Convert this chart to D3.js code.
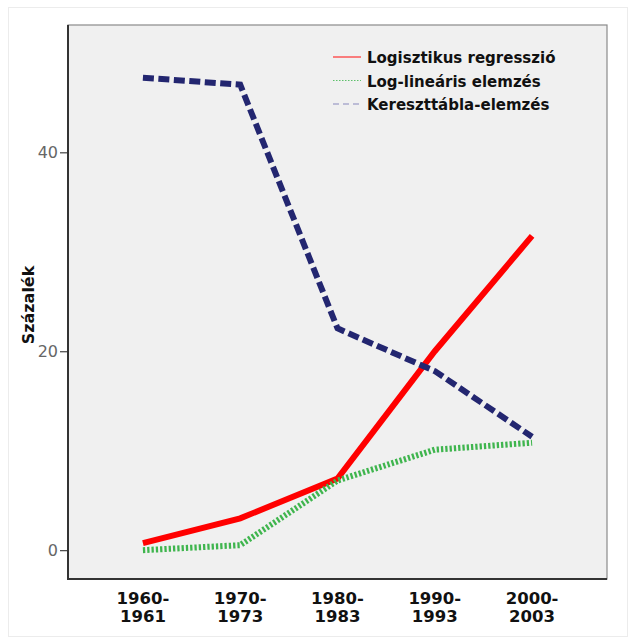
<!DOCTYPE html>
<html>
<head>
<meta charset="utf-8">
<script src="https://cdn.jsdelivr.net/npm/d3@7"></script>
<style>
  html, body { margin: 0; padding: 0; background: #ffffff; }
  svg { display: block; }
</style>
</head>
<body>
<svg id="chart" width="629" height="637"></svg>
<script>
const categories = [["1960-", "1961"], ["1970-", "1973"], ["1980-", "1983"], ["1990-", "1993"], ["2000-", "2003"]];
const seriesNames = ["Logisztikus regresszió", "Log-lineáris elemzés", "Kereszttábla-elemzés"];
const logisztikus = [0.7, 3.2, 7.2, 20.0, 31.6];
const logLinearis = [0.0, 0.5, 7.0, 10.1, 10.8];
const kereszttabla = [47.5, 46.8, 22.3, 18.0, 11.4];
const yTicks = [0, 20, 40];
const yTitle = "Százalék";

const seriesValues = [logisztikus, logLinearis, kereszttabla];
const seriesStyle = [
  { color: "#ff0000", dash: null, legendColor: "#ff3030", legendDash: null },
  { color: "#3fb54e", dash: "2.3,2", legendColor: "#5cc06a", legendDash: "1.5,1.5" },
  { color: "#232670", dash: "11,4.5", legendColor: "#8888bb", legendDash: "6,4" }
];

const svg = d3.select("#chart");
const W = 629, H = 637;

// outer frame
svg.append("rect").attr("x", 8.5).attr("y", 7.5).attr("width", W - 10).attr("height", H - 8)
  .attr("fill", "#ffffff").attr("stroke", "#ececec").attr("stroke-width", 1);

const plot = { left: 68, top: 25, right: 607, bottom: 579 };

const x = d3.scalePoint()
  .domain(categories.map((d, i) => i))
  .range([plot.left, plot.right])
  .padding(0.77);

const y = d3.scaleLinear()
  .domain([-2.9, 52.8])
  .range([plot.bottom, plot.top]);

// plot background
svg.append("rect")
  .attr("x", plot.left).attr("y", plot.top)
  .attr("width", plot.right - plot.left).attr("height", plot.bottom - plot.top)
  .attr("fill", "#f0f0f0").attr("stroke", "#8a8a8a").attr("stroke-width", 1.2);

// lines
const line = d3.line().x((d, i) => x(i)).y(d => y(d));
seriesValues.forEach((vals, k) => {
  const p = svg.append("path")
    .attr("d", line(vals))
    .attr("fill", "none")
    .attr("stroke", seriesStyle[k].color)
    .attr("stroke-width", 6)
    .attr("stroke-linejoin", "miter");
  if (seriesStyle[k].dash) p.attr("stroke-dasharray", seriesStyle[k].dash);
});

// y axis
const yAxis = d3.axisLeft(y).tickValues(yTicks).tickSize(8).tickPadding(2).tickFormat(d3.format("d"));
const gy = svg.append("g").attr("transform", `translate(${plot.left},0)`).call(yAxis);
gy.select(".domain").remove();
gy.selectAll(".tick line").attr("stroke", "#444").attr("stroke-width", 1.2);
gy.selectAll(".tick text").attr("fill", "#666").style("font-family", "DejaVu Sans, sans-serif").style("font-size", "16px");
svg.append("line").attr("x1", plot.left).attr("x2", plot.left).attr("y1", plot.top).attr("y2", plot.bottom + 1)
  .attr("stroke", "#333").attr("stroke-width", 2);
svg.append("line").attr("x1", plot.left - 1).attr("x2", plot.right).attr("y1", plot.bottom).attr("y2", plot.bottom)
  .attr("stroke", "#333").attr("stroke-width", 2);

// y title
svg.append("text")
  .attr("transform", `translate(34,305) rotate(-90)`)
  .attr("text-anchor", "middle")
  .style("font-family", "DejaVu Sans, sans-serif").style("font-weight", "bold").style("font-size", "16px")
  .attr("fill", "#111")
  .text(yTitle);

// x labels
const xl = svg.append("g");
categories.forEach((c, i) => {
  const t = xl.append("text")
    .attr("x", x(i)).attr("y", 604)
    .attr("text-anchor", "middle")
    .style("font-family", "DejaVu Sans, sans-serif").style("font-weight", "bold").style("font-size", "16.5px")
    .attr("fill", "#111");
  t.append("tspan").attr("x", x(i)).attr("y", 604).text(c[0]);
  t.append("tspan").attr("x", x(i)).attr("y", 622).text(c[1]);
});

// legend
const lg = svg.append("g");
seriesNames.forEach((name, k) => {
  const yy = 57 + k * 23.5;
  const l = lg.append("line").attr("x1", 333).attr("x2", 361).attr("y1", yy).attr("y2", yy)
    .attr("stroke", seriesStyle[k].legendColor).attr("stroke-width", 1.2);
  if (seriesStyle[k].legendDash) l.attr("stroke-dasharray", seriesStyle[k].legendDash);
  lg.append("text").attr("x", 367).attr("y", yy + 6)
    .style("font-family", "DejaVu Sans, sans-serif").style("font-weight", "bold").style("font-size", "15px")
    .attr("fill", "#111")
    .text(name);
});
</script>
</body>
</html>
